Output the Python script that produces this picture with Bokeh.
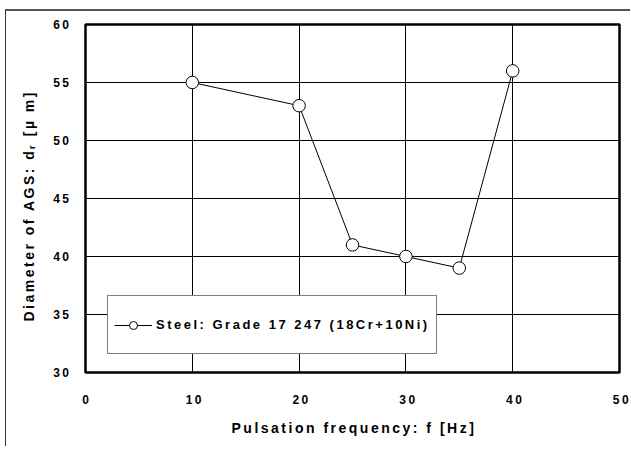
from bokeh.plotting import figure
from bokeh.models import Range1d, Legend, LegendItem, FixedTicker, Title
from bokeh.embed import file_html
from bokeh.resources import INLINE

freq = [10, 20, 25, 30, 35, 40]
diameter = [55, 53, 41, 40, 39, 56]
x_ticks = [0, 10, 20, 30, 40, 50]
y_ticks = [30, 35, 40, 45, 50, 55, 60]
series_name = "Steel: Grade 17 247 (18Cr+10Ni)"
x_title = "Pulsation frequency:   f [Hz]"
y_title = "Diameter of AGS:  d\u1d63 [\u00b5 m]"

FONT = "Liberation Sans"

p = figure(width=625, height=437, output_backend="svg", toolbar_location=None,
           x_range=Range1d(0, 50), y_range=Range1d(30, 60),
           min_border_left=79, min_border_right=12, min_border_top=13, min_border_bottom=76)
p.background_fill_color = "white"
p.border_fill_color = "white"
p.outline_line_color = "black"
p.outline_line_width = 2.5

for ax in (p.xaxis[0], p.yaxis[0]):
    ax.axis_line_color = None
    ax.major_tick_line_color = None
    ax.minor_tick_line_color = None
    ax.major_label_text_font = FONT
    ax.major_label_text_font_style = "bold"
    ax.major_label_text_font_size = "12px"
    ax.major_label_text_color = "black"
    # a blank axis label only keeps a gap between tick labels and the title
    ax.axis_label = " "
    ax.axis_label_text_font_size = "1px"

p.xaxis.ticker = FixedTicker(ticks=x_ticks)
p.yaxis.ticker = FixedTicker(ticks=y_ticks)
p.xaxis.major_label_standoff = 16
p.yaxis.major_label_standoff = 13
p.xaxis.axis_label_standoff = 2
p.yaxis.axis_label_standoff = 5

p.xgrid.grid_line_color = "black"
p.ygrid.grid_line_color = "black"
p.xgrid.grid_line_width = 1
p.ygrid.grid_line_width = 1
p.xgrid.grid_line_alpha = 1
p.ygrid.grid_line_alpha = 1

ln = p.line(freq, diameter, line_color="black", line_width=1)
sc = p.scatter(freq, diameter, size=12.5, marker="circle", fill_color="white",
               line_color="black", line_width=1)

xt = Title(text=x_title, align="left", offset=146, text_font=FONT,
           text_font_style="bold", text_font_size="14px", text_color="black")
yt = Title(text=y_title, align="left", offset=51, text_font=FONT,
           text_font_style="bold", text_font_size="14px", text_color="black")
p.add_layout(xt, "below")
p.add_layout(yt, "left")

legend = Legend(items=[LegendItem(label=series_name, renderers=[ln, sc])],
                location=(22, 18))
legend.label_text_font = FONT
legend.label_text_font_style = "bold"
legend.label_text_font_size = "13px"
legend.label_text_color = "black"
legend.border_line_color = "black"
legend.border_line_width = 1
legend.background_fill_color = "white"
legend.background_fill_alpha = 1
legend.padding = 6
legend.margin = 0
legend.glyph_width = 38
legend.glyph_height = 20
legend.label_height = 45
legend.label_width = 270
legend.label_standoff = 4
p.add_layout(legend, "center")

p.styles = {"margin-top": "9px", "margin-left": "5px",
            "border-top": "2px solid #555", "border-left": "1px solid #333",
            "letter-spacing": "2.5px", "white-space": "pre"}

open("out.html", "w").write(file_html(p, INLINE))
